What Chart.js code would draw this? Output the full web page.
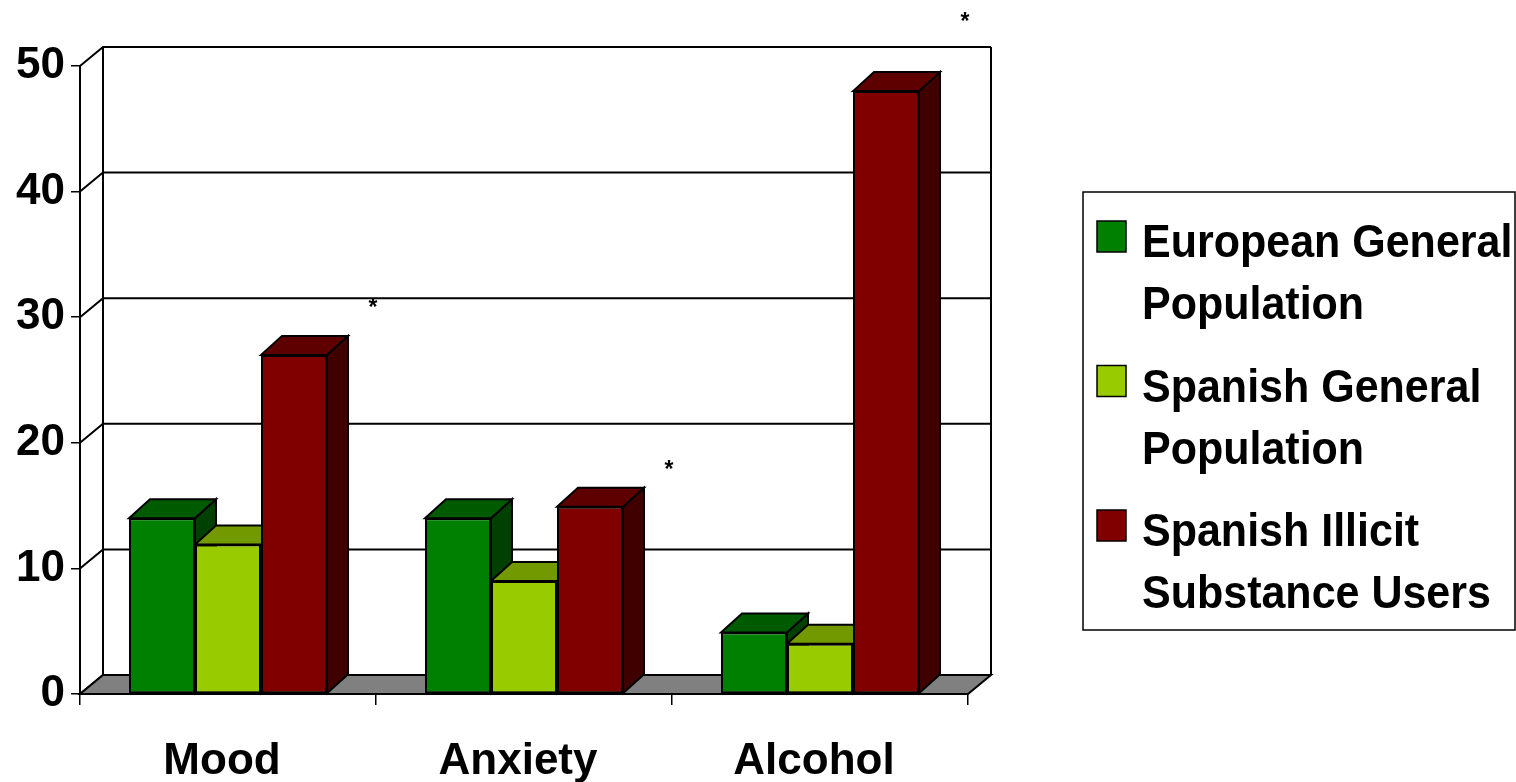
<!DOCTYPE html>
<html>
<head>
<meta charset="utf-8">
<title>Prevalence chart</title>
<script src="https://cdn.jsdelivr.net/npm/chart.js@4.4.0/dist/chart.umd.min.js"></script>
<style>
  html, body { margin: 0; padding: 0; background: #fff; }
  #wrap { width: 1516px; height: 782px; position: relative; }
</style>
</head>
<body>
<div id="wrap"><canvas id="barChart"></canvas></div>
<script>
const categories = ["Mood", "Anxiety", "Alcohol"];
const europeanGeneral = [14, 14, 4.9];
const spanishGeneral = [11.9, 9, 4];
const spanishIllicit = [27, 14.9, 48];
const seriesNames = [
  ["European General", "Population"],
  ["Spanish General", "Population"],
  ["Spanish Illicit", "Substance Users"],
];
const yTicks = [0, 10, 20, 30, 40, 50];
const starLevels = [31.2, 18.3, 54]; // height of the "*" marks, in axis units

const frontColors = ["#008000", "#99cc00", "#800000"];
const topColors = ["#005a00", "#739900", "#5e0000"];
const sideColors = ["#004000", "#567300", "#400000"];

const FONT = "'Liberation Sans', Arial, sans-serif";
const WALL = { dx: 23, dy: -19 };
const BAR = { dx: 21, dy: -19 };

function poly(ctx, pts, fill) {
  ctx.beginPath();
  ctx.moveTo(pts[0][0], pts[0][1]);
  for (let k = 1; k < pts.length; k++) ctx.lineTo(pts[k][0], pts[k][1]);
  ctx.closePath();
  ctx.fillStyle = fill;
  ctx.fill();
  ctx.stroke();
}

// back wall, floor and the top/side faces of each column
const threeD = {
  id: "threeD",
  beforeDatasetsDraw(chart) {
    const { ctx, chartArea: a, scales: { y } } = chart;
    ctx.save();
    ctx.strokeStyle = "#000";
    ctx.lineWidth = 2;
    yTicks.forEach((v) => {
      const py = y.getPixelForValue(v);
      ctx.beginPath();
      ctx.moveTo(a.left, py);
      ctx.lineTo(a.left + WALL.dx, py + WALL.dy);
      ctx.lineTo(a.right + WALL.dx, py + WALL.dy);
      ctx.stroke();
    });
    ctx.beginPath();
    ctx.moveTo(a.left + WALL.dx, a.top + WALL.dy);
    ctx.lineTo(a.left + WALL.dx, a.bottom + WALL.dy);
    ctx.moveTo(a.right + WALL.dx, a.top + WALL.dy);
    ctx.lineTo(a.right + WALL.dx, a.bottom + WALL.dy);
    ctx.stroke();

    poly(ctx, [
      [a.left, a.bottom], [a.right, a.bottom],
      [a.right + WALL.dx, a.bottom + WALL.dy], [a.left + WALL.dx, a.bottom + WALL.dy],
    ], "#808080");

    categories.forEach((c, j) => {
      chart.data.datasets.forEach((ds, i) => {
        const bar = chart.getDatasetMeta(i).data[j];
        const p = bar.getProps(["x", "y", "base", "width"], true);
        const x0 = p.x - p.width / 2;
        const x1 = p.x + p.width / 2;
        poly(ctx, [
          [x1, p.y], [x1 + BAR.dx, p.y + BAR.dy],
          [x1 + BAR.dx, p.base + BAR.dy], [x1, p.base],
        ], sideColors[i]);
        poly(ctx, [
          [x0, p.y], [x0 + BAR.dx, p.y + BAR.dy],
          [x1 + BAR.dx, p.y + BAR.dy], [x1, p.y],
        ], topColors[i]);
      });
    });
    ctx.restore();
  },
  afterDatasetsDraw(chart) {
    const { ctx, chartArea: a, scales: { x, y } } = chart;
    const catWidth = (a.right - a.left) / categories.length;
    ctx.save();
    ctx.fillStyle = "#000";
    ctx.font = "bold 23px " + FONT;
    ctx.textAlign = "center";
    ctx.textBaseline = "alphabetic";
    starLevels.forEach((v, j) => {
      const px = x.getPixelForValue(j) + catWidth / 2 - 3;
      const py = y.getPixelForValue(v);
      ctx.fillText("*", px, py + 13);
    });
    ctx.restore();
  },
  afterDraw(chart) {
    const { ctx } = chart;
    ctx.save();
    ctx.strokeStyle = "#000";
    ctx.lineWidth = 1.5;
    ctx.strokeRect(1083, 192, 432, 438);
    ctx.font = "bold 43px " + FONT;
    ctx.textBaseline = "alphabetic";
    ctx.textAlign = "left";
    seriesNames.forEach((lines, i) => {
      const base = 257 + i * 144.5;
      ctx.fillStyle = frontColors[i];
      ctx.lineWidth = 1.5;
      ctx.fillRect(1097, base - 36, 29, 31);
      ctx.strokeRect(1097, base - 36, 29, 31);
      ctx.fillStyle = "#000";
      lines.forEach((line, k) => {
        ctx.save();
        ctx.translate(1142, base + k * 62);
        ctx.scale(1, 1.09);
        ctx.fillText(line, 0, 0);
        ctx.restore();
      });
    });
    ctx.restore();
  },
};

const series = [europeanGeneral, spanishGeneral, spanishIllicit];

new Chart(document.getElementById("barChart"), {
  type: "bar",
  data: {
    labels: categories,
    datasets: series.map((values, i) => ({
      label: seriesNames[i].join(" "),
      data: values,
      backgroundColor: frontColors[i],
      borderColor: "#000",
      borderWidth: 2,
      borderSkipped: false,
      categoryPercentage: 0.669,
      barPercentage: 1.0,
    })),
  },
  options: {
    responsive: true,
    maintainAspectRatio: false,
    animation: false,
    events: [],
    layout: { padding: { top: 66, right: 548, left: 0, bottom: 0 } },
    plugins: {
      legend: { display: false },
      tooltip: { enabled: false },
    },
    scales: {
      x: {
        grid: { drawOnChartArea: false, offset: true, tickLength: 11, color: "#000", lineWidth: 1.5 },
        border: { color: "#000", width: 2 },
        ticks: {
          color: "#000",
          font: { family: FONT, size: 44, weight: "bold" },
          padding: 30,
          labelOffset: -6,
        },
        afterFit: (s) => { s.height = 88; },
      },
      y: {
        min: 0,
        max: 50,
        afterBuildTicks: (s) => { s.ticks = yTicks.map((v) => ({ value: v })); },
        grid: { drawOnChartArea: false, tickLength: 9, color: "#000", lineWidth: 1.5 },
        border: { color: "#000", width: 2 },
        ticks: {
          color: "#000",
          font: { family: FONT, size: 44, weight: "bold" },
          padding: 6,
        },
        afterFit: (s) => { s.width = 80; },
      },
    },
  },
  plugins: [threeD],
});
</script>
</body>
</html>
